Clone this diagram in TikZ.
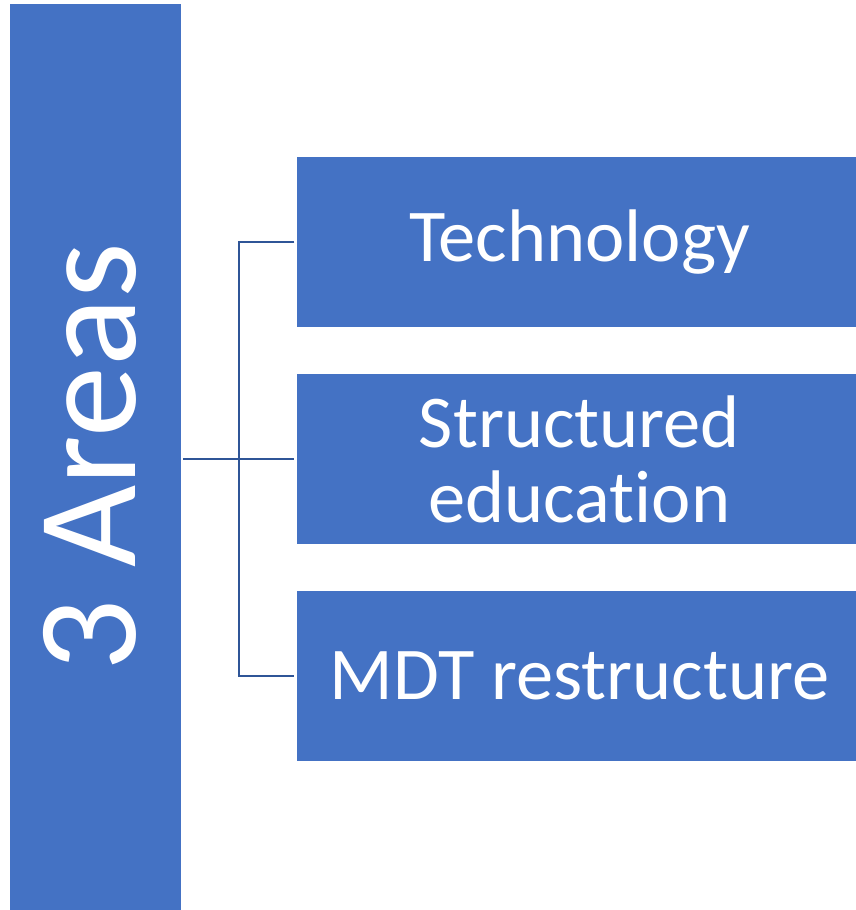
\documentclass[tikz,border=0pt]{standalone}
\usepackage{fontspec}
\setmainfont{Carlito}[RawFeature=-liga]
\definecolor{boxblue}{HTML}{4472C4}
\definecolor{linkblue}{HTML}{2F5597}
\begin{document}
\begin{tikzpicture}[x=1pt,y=-1pt,
  bar/.style={fill=boxblue, draw=none, inner sep=0pt,
    minimum width=171pt, minimum height=906pt},
  title/.style={text=white, inner sep=0pt, rotate=90,
    font=\fontsize{142}{142}\selectfont},
  area/.style={fill=boxblue, draw=none, text=white, inner sep=0pt,
    minimum width=559pt, minimum height=170pt, align=center,
    font=\fontsize{74.5}{75}\selectfont},
  link/.style={draw=linkblue, line width=2.2pt, line join=miter}]
\useasboundingbox (0,0) rectangle (856,910);

% left bar with its rotated heading
\node[bar] (main) at (95.5,457) {};
\node[title] (heading) at (89.5,457.5) {3 Areas};

% the three areas
\node[area] (tech) at (576.5,242) {\hspace*{6pt}Technology};
\node[area] (edu)  at (576.5,459) {\hspace*{6pt}Structured\\\hspace*{6pt}education};
\node[area] (mdt)  at (576.5,676) {\hspace*{6pt}MDT restructure};

% bracket connector
\coordinate (hub) at (239,459);
\draw[link] ([xshift=-2.5pt]tech.west) -| (hub) |- ([xshift=-2.5pt]mdt.west);
\draw[link] ([xshift=2pt]main.east |- hub) -- ([xshift=-2.5pt]edu.west);
\end{tikzpicture}
\end{document}
